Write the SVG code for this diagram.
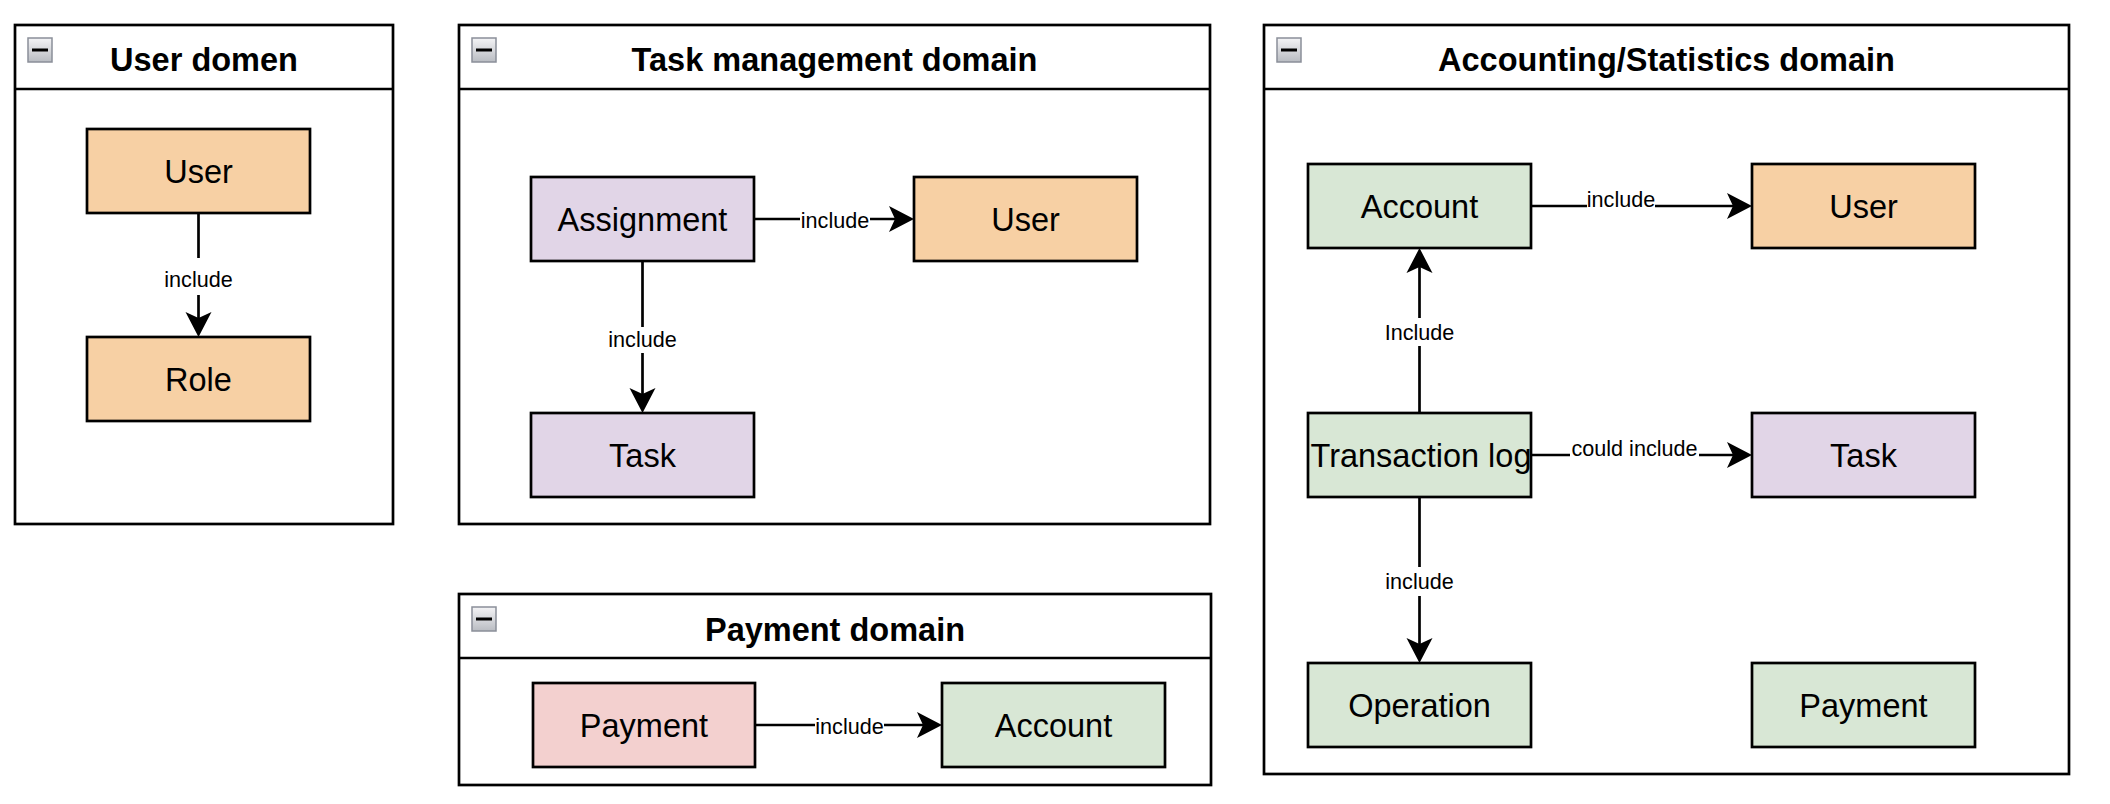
<svg xmlns="http://www.w3.org/2000/svg" width="2110" height="804" viewBox="0 0 2110 804">
<style>
.cont{fill:#ffffff;stroke:#000;stroke-width:2.7}
.hdr{stroke:#000;stroke-width:2.7}
.title{font-family:"Liberation Sans",Arial,Helvetica,sans-serif;font-weight:bold;font-size:32.5px;fill:#000;text-anchor:middle}
.node{stroke:#000;stroke-width:2.7}
.ntext{font-family:"Liberation Sans",Arial,Helvetica,sans-serif;font-size:32.5px;fill:#000;text-anchor:middle}
.orange{fill:#f7d0a4}
.purple{fill:#e1d5e7}
.green{fill:#d8e7d5}
.pink{fill:#f3d0cf}
.edge{fill:none;stroke:#000;stroke-width:2.7}
.lbg{fill:#ffffff}
.ltext{font-family:"Liberation Sans",Arial,Helvetica,sans-serif;font-size:21.6px;fill:#000;text-anchor:middle}
.icon{fill:url(#ig);stroke:#8a8f99;stroke-width:1.5}
.minus{stroke:#000;stroke-width:3}
</style>
<defs>
<linearGradient id="ig" x1="0" y1="0" x2="0" y2="1">
<stop offset="0" stop-color="#f4f4f6"/>
<stop offset="1" stop-color="#b9bcc2"/>
</linearGradient>
<marker id="arr" markerUnits="userSpaceOnUse" markerWidth="30" markerHeight="30" viewBox="0 0 30 30" refX="7" refY="15" orient="auto">
<path d="M26,15 L1,2 L7,15 L1,28 Z" fill="#000"/>
</marker>
</defs>
<rect width="2110" height="804" fill="#ffffff"/>

<g id="user-domain">
<rect class="cont" x="15" y="25" width="378" height="499"/>
<line class="hdr" x1="15" y1="89" x2="393" y2="89"/>
<rect class="icon" x="28" y="38" width="24" height="24"/>
<line class="minus" x1="32" y1="50" x2="48" y2="50"/>
<text class="title" x="204" y="71">User domen</text>
</g>
<g id="task-domain">
<rect class="cont" x="459" y="25" width="751" height="499"/>
<line class="hdr" x1="459" y1="89" x2="1210" y2="89"/>
<rect class="icon" x="472" y="38" width="24" height="24"/>
<line class="minus" x1="476" y1="50" x2="492" y2="50"/>
<text class="title" x="834.5" y="71">Task management domain</text>
</g>
<g id="payment-domain">
<rect class="cont" x="459" y="594" width="752" height="191"/>
<line class="hdr" x1="459" y1="658" x2="1211" y2="658"/>
<rect class="icon" x="472" y="607" width="24" height="24"/>
<line class="minus" x1="476" y1="619" x2="492" y2="619"/>
<text class="title" x="835" y="641">Payment domain</text>
</g>
<g id="accounting-domain">
<rect class="cont" x="1264" y="25" width="805" height="749"/>
<line class="hdr" x1="1264" y1="89" x2="2069" y2="89"/>
<rect class="icon" x="1277" y="38" width="24" height="24"/>
<line class="minus" x1="1281" y1="50" x2="1297" y2="50"/>
<text class="title" x="1666.5" y="71">Accounting/Statistics domain</text>
</g>

<g id="ud-user"><rect class="node orange" x="87" y="129" width="223" height="84"/><text class="ntext" x="198.5" y="182.5">User</text></g>
<g id="ud-role"><rect class="node orange" x="87" y="337" width="223" height="84"/><text class="ntext" x="198.5" y="390.5">Role</text></g>

<g id="tm-assignment"><rect class="node purple" x="531" y="177" width="223" height="84"/><text class="ntext" x="642.5" y="230.5">Assignment</text></g>
<g id="tm-user"><rect class="node orange" x="914" y="177" width="223" height="84"/><text class="ntext" x="1025.5" y="230.5">User</text></g>
<g id="tm-task"><rect class="node purple" x="531" y="413" width="223" height="84"/><text class="ntext" x="642.5" y="466.5">Task</text></g>

<g id="pd-payment"><rect class="node pink" x="533" y="683" width="222" height="84"/><text class="ntext" x="644" y="736.5">Payment</text></g>
<g id="pd-account"><rect class="node green" x="942" y="683" width="223" height="84"/><text class="ntext" x="1053.5" y="736.5">Account</text></g>

<g id="as-account"><rect class="node green" x="1308" y="164" width="223" height="84"/><text class="ntext" x="1419.5" y="217.5">Account</text></g>
<g id="as-user"><rect class="node orange" x="1752" y="164" width="223" height="84"/><text class="ntext" x="1863.5" y="217.5">User</text></g>
<g id="as-transaction-log"><rect class="node green" x="1308" y="413" width="223" height="84"/><text class="ntext" x="1421" y="466.5">Transaction log</text></g>
<g id="as-task"><rect class="node purple" x="1752" y="413" width="223" height="84"/><text class="ntext" x="1863.5" y="466.5">Task</text></g>
<g id="as-operation"><rect class="node green" x="1308" y="663" width="223" height="84"/><text class="ntext" x="1419.5" y="716.5">Operation</text></g>
<g id="as-payment"><rect class="node green" x="1752" y="663" width="223" height="84"/><text class="ntext" x="1863.5" y="716.5">Payment</text></g>

<g id="connectors">
<line class="edge" x1="198.5" y1="213" x2="198.5" y2="318" marker-end="url(#arr)"/>
<rect class="lbg" x="163" y="258" width="71" height="37"/>
<text class="ltext" x="198.5" y="286.5">include</text>

<line class="edge" x1="754" y1="219" x2="895" y2="219" marker-end="url(#arr)"/>
<rect class="lbg" x="800" y="209" width="70" height="22"/>
<text class="ltext" x="835" y="228">include</text>

<line class="edge" x1="642.5" y1="261" x2="642.5" y2="394" marker-end="url(#arr)"/>
<rect class="lbg" x="607" y="327" width="71" height="26"/>
<text class="ltext" x="642.5" y="347">include</text>

<line class="edge" x1="755" y1="725" x2="923" y2="725" marker-end="url(#arr)"/>
<rect class="lbg" x="815" y="715" width="69" height="22"/>
<text class="ltext" x="849.5" y="734">include</text>

<line class="edge" x1="1531" y1="206" x2="1733" y2="206" marker-end="url(#arr)"/>
<rect class="lbg" x="1587" y="188" width="68" height="21"/>
<text class="ltext" x="1621" y="207">include</text>

<line class="edge" x1="1419.5" y1="413" x2="1419.5" y2="267" marker-end="url(#arr)"/>
<rect class="lbg" x="1383" y="318" width="73" height="28"/>
<text class="ltext" x="1419.5" y="340">Include</text>

<line class="edge" x1="1531" y1="455" x2="1733" y2="455" marker-end="url(#arr)"/>
<rect class="lbg" x="1570" y="437" width="129" height="21"/>
<text class="ltext" x="1634.5" y="456">could include</text>

<line class="edge" x1="1419.5" y1="497" x2="1419.5" y2="644" marker-end="url(#arr)"/>
<rect class="lbg" x="1384" y="567" width="71" height="29"/>
<text class="ltext" x="1419.5" y="589">include</text>
</g>
</svg>
